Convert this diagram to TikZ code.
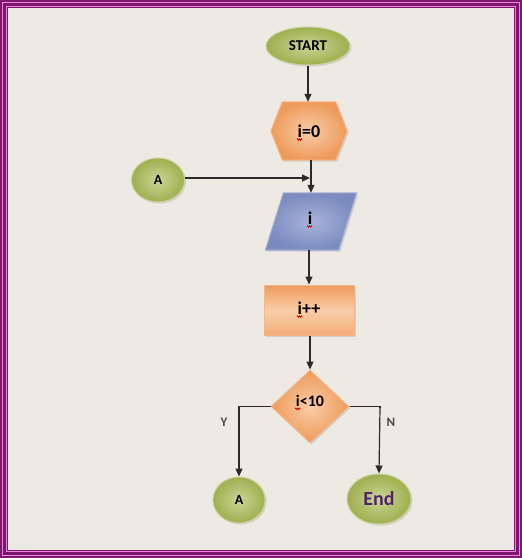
\documentclass[tikz,border=0pt]{standalone}
\usepackage{fontspec}
\setmainfont{Carlito}
\usetikzlibrary{shapes.geometric,arrows.meta,decorations.pathmorphing,calc,shadows}
\definecolor{bg}{HTML}{EDEAE3}
\definecolor{purp}{HTML}{7E1670}
\definecolor{pinkl}{HTML}{E58AD8}
\definecolor{grin}{HTML}{CBD596}
\definecolor{grout}{HTML}{9EAF4E}
\definecolor{grdraw}{HTML}{C9D29A}
\definecolor{orin}{HTML}{F9CDA8}
\definecolor{orout}{HTML}{EE9A5A}
\definecolor{ordraw}{HTML}{F4B68A}
\definecolor{blin}{HTML}{A9B3DA}
\definecolor{blout}{HTML}{7B8BC0}
\definecolor{bldraw}{HTML}{A6B0D6}
\definecolor{lnc}{HTML}{2A2A2A}
\definecolor{endc}{HTML}{4F2468}
\definecolor{lab}{HTML}{4A4A40}
\tikzset{
  sh/.style={drop shadow={shadow xshift=1.5pt,shadow yshift=-1.5pt,opacity=0.25}},
  term/.style={ellipse,inner sep=0pt,draw=grdraw,line width=1pt,inner color=grin,outer color=grout,sh,font=\bfseries,text=black},
  orng/.style={inner color=orin,outer color=orout},
  blu/.style={inner color=blin,outer color=blout},
  procbox/.style={rectangle,inner sep=0pt,draw=ordraw,line width=1pt,top color=orout,bottom color=orout!60!orin,middle color=orin,sh},
  decbox/.style={diamond,inner sep=0pt,draw=ordraw,line width=1pt,inner color=orin,outer color=orout,sh},
  txt/.style={inner sep=0pt,text=black,font=\bfseries\fontsize{18}{20}\selectfont},
  arr/.style={draw=lnc,line width=1.2pt,-{Triangle[length=8pt,width=7pt]}},
  ln/.style={draw=lnc,line width=1.2pt},
  lbl/.style={font=\bfseries\fontsize{13}{15}\selectfont,text=lab},
  sq/.style={draw=red!80!black,line width=0.7pt,decorate,decoration={zigzag,segment length=2pt,amplitude=0.8pt}}
}
\begin{document}
\begin{tikzpicture}[x=1pt,y=-1pt]
\useasboundingbox (0,0) rectangle (522,558);
% frame
\fill[purp] (0,0) rectangle (522,558);
\draw[pinkl,line width=0.9pt] (2.8,2.8) rectangle (519.2,555.2);
\draw[pinkl,line width=0.9pt] (6.8,6.8) rectangle (515.2,551.2);
\fill[bg] (8,8) rectangle (514,550);
% nodes
\node[term,minimum width=84pt,minimum height=38pt,font=\bfseries\fontsize{15}{17}\selectfont] (st) at (308,46) {START};
\node[rectangle,minimum width=76pt,minimum height=58pt,inner sep=0pt] (h) at (309,131) {};
\shade[orng,draw=ordraw,line width=1pt,sh] ($(h.north west)+(11.5,0)$) -- ($(h.north east)+(-11.5,0)$) -- (h.east) -- ($(h.south east)+(-11.5,0)$) -- ($(h.south west)+(11.5,0)$) -- (h.west) -- cycle;
\node[txt] (ht) at (h.center) {i=0};
\node[term,minimum width=53pt,minimum height=44pt,font=\bfseries\fontsize{14}{16}\selectfont] (a1) at (158,180) {A};
\node[rectangle,minimum width=91pt,minimum height=57pt,inner sep=0pt] (io) at (311,221.5) {};
\shade[blu,draw=bldraw,line width=1pt,sh] ($(io.north west)+(18,0)$) -- (io.north east) -- ($(io.south east)+(-18,0)$) -- (io.south west) -- cycle;
\node[txt] (iot) at (310,218) {i};
\node[procbox,minimum width=90pt,minimum height=50pt] (pr) at (309,310) {};
\node[txt] (prt) at (309,308) {i++};
\node[decbox,minimum width=78pt,minimum height=73pt] (dc) at (310,406.5) {};
\node[txt,font=\bfseries\fontsize{16}{18}\selectfont] (dct) at (310,401) {i<10};
\node[term,minimum width=52pt,minimum height=46pt,font=\bfseries\fontsize{14}{16}\selectfont] (a2) at (239,500) {A};
\node[term,minimum width=64pt,minimum height=50pt,font=\bfseries\fontsize{20}{22}\selectfont,text=endc] (en) at (379,499) {End};
\coordinate (mj) at (310,178);
\coordinate (yl) at (239,408);
\coordinate (nr) at (380,408);
% connectors
\draw[arr] (st.south) -- (st.south |- h.north);
\draw[arr] (h.south -| io.north) -- (io.north);
\draw[arr] (a1.east |- mj) -- (mj);
\draw[arr] (io.south -| pr.north) -- (pr.north);
\draw[arr] (pr.south -| dc.north) -- (dc.north);
\draw[ln] (dc.west) -- (dc.west -| yl) -- (yl);
\draw[arr] (yl) -- (a2.north);
\draw[ln] (dc.east) -- (dc.east -| nr) -- (nr);
\draw[arr] (nr) -- (en.north);
\node[lbl] (ly) at (224,422) {Y};
\node[lbl] (lnn) at (391,422) {N};
% spell-check squiggles under the i's
\draw[sq] ($(ht.south west)+(-0.5,2)$) -- ++(5,0);
\draw[sq] ($(iot.south west)+(-0.5,2)$) -- ++(5,0);
\draw[sq] ($(prt.south west)+(-0.5,2)$) -- ++(5,0);
\draw[sq] ($(dct.south west)+(-0.5,2)$) -- ++(5,0);
\end{tikzpicture}
\end{document}
